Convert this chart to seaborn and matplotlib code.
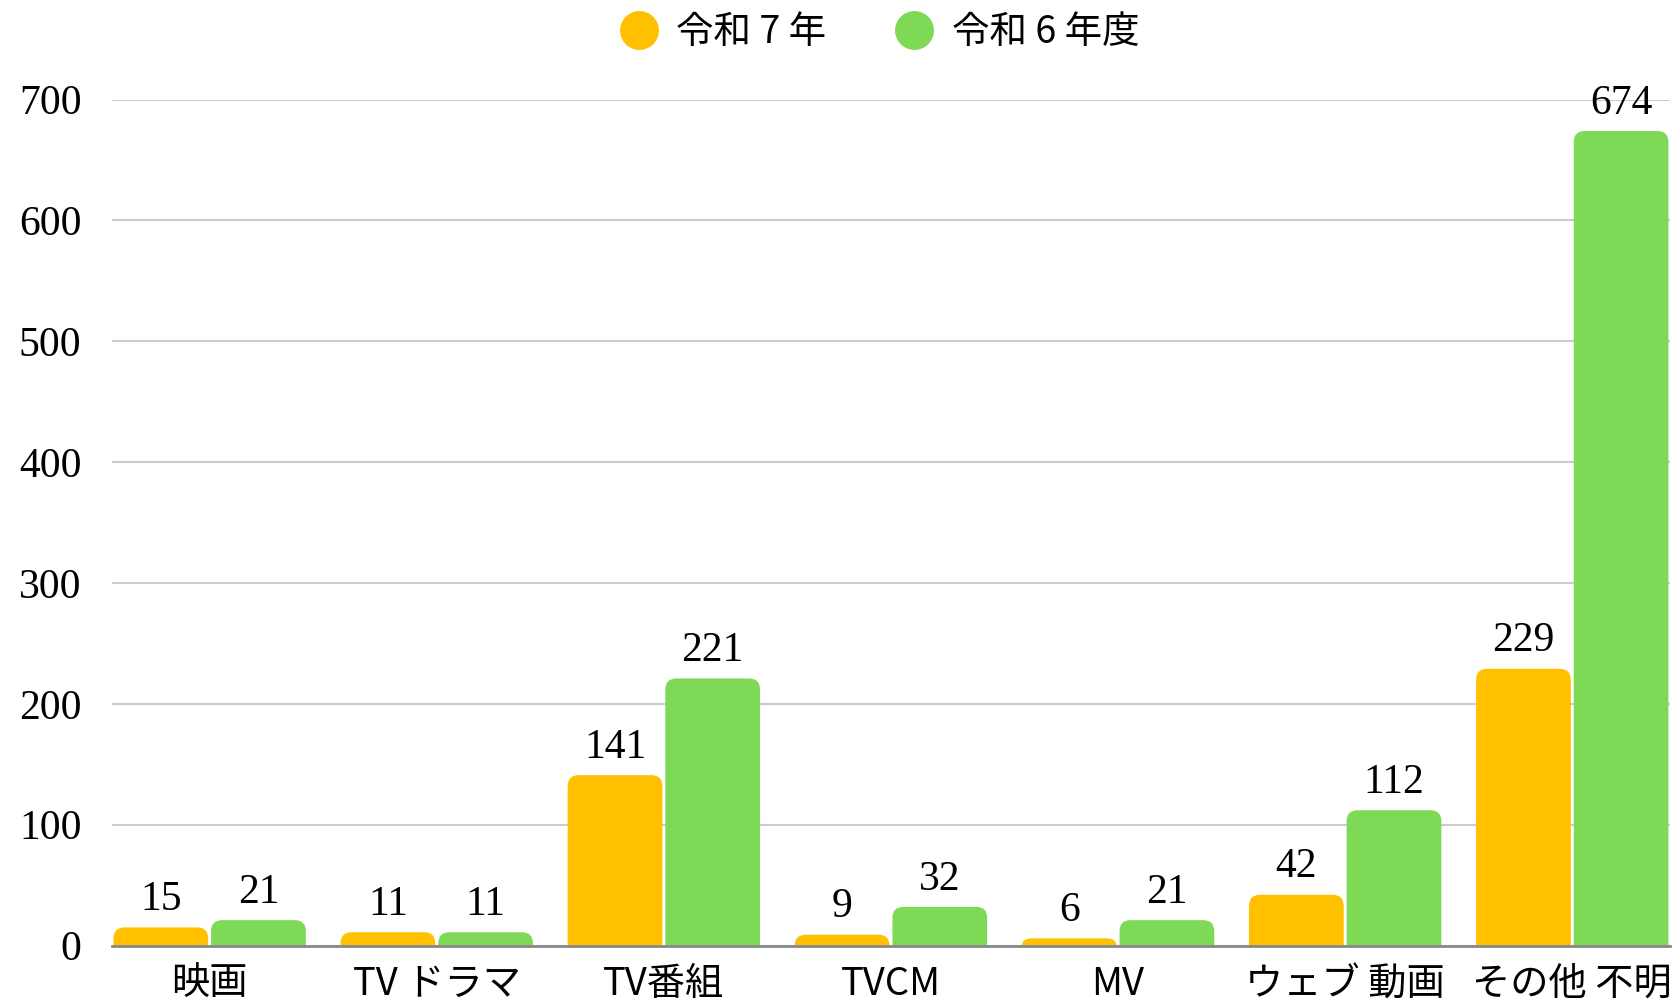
import matplotlib
matplotlib.use("Agg")
import matplotlib.pyplot as plt
import seaborn as sns
import pandas as pd
import numpy as np
from matplotlib.path import Path
from matplotlib.patches import PathPatch
from matplotlib.lines import Line2D

categories = ["映画", "TV ドラマ", "TV番組", "TVCM", "MV", "ウェブ 動画", "その他 不明"]
series_names = ["令和 7 年", "令和 6 年度"]
values_r7 = [15, 11, 141, 9, 6, 42, 229]
values_r6 = [21, 11, 221, 32, 21, 112, 674]
colors = ["#FFC000", "#7ED957"]
yticks = [0, 100, 200, 300, 400, 500, 600, 700]

df = pd.DataFrame({
    "category": categories * 2,
    "series": [series_names[0]] * len(categories) + [series_names[1]] * len(categories),
    "value": values_r7 + values_r6,
})

sns.set_theme(style="white")
plt.rcParams["font.family"] = ["Noto Sans CJK JP", "DejaVu Sans"]
plt.rcParams["text.color"] = "black"
NUMFONT = ["Liberation Serif", "Noto Sans CJK JP"]

fig = plt.figure(figsize=(16.79, 10.06), dpi=100)
ax = fig.add_axes([0.0667, 0.0601, 0.9946 - 0.0667, 0.901 - 0.0601])

sns.barplot(data=df, x="category", y="value", hue="series", order=categories,
            hue_order=series_names, palette=colors, width=0.86, gap=0.03,
            saturation=1, legend=False, ax=ax, zorder=3)

ax.set_xlim(-0.43, len(categories) - 1 + 0.43)
ax.set_ylim(0, 700)
ax.set_yticks(yticks)
ax.set_yticklabels([str(t) for t in yticks], fontfamily=NUMFONT, fontsize=30)
ax.set_xlabel("")
ax.set_ylabel("")
ax.tick_params(axis="y", length=0, pad=22, labelcolor="black")
ax.tick_params(axis="x", length=0, pad=14, labelsize=27.5, labelcolor="black")
for sp in ["left", "right", "top"]:
    ax.spines[sp].set_visible(False)
ax.spines["bottom"].set_color("#888888")
ax.spines["bottom"].set_linewidth(2)
ax.spines["bottom"].set_zorder(4)
ax.yaxis.grid(True, color="#cccccc", linewidth=1.5, zorder=0)
ax.set_axisbelow(True)

for cont in ax.containers:
    ax.bar_label(cont, padding=6, fontsize=30, fontfamily=NUMFONT, color="black", clip_on=False)

# rounded top corners
fig.canvas.draw()
r_px = 11
for p in list(ax.patches):
    x, y, w, h = p.get_x(), p.get_y(), p.get_width(), p.get_height()
    if h <= 0:
        continue
    (x0d, y0d) = ax.transData.transform((0, 0))
    (x1d, y1d) = ax.transData.transform((1, 1))
    rx = r_px / (x1d - x0d)
    ry = min(r_px / (y1d - y0d), h)
    rx = min(rx, w / 2)
    verts = [(x, y), (x + w, y), (x + w, y + h - ry), (x + w, y + h), (x + w - rx, y + h),
             (x + rx, y + h), (x, y + h), (x, y + h - ry), (x, y)]
    codes = [Path.MOVETO, Path.LINETO, Path.LINETO, Path.CURVE3, Path.CURVE3,
             Path.LINETO, Path.CURVE3, Path.CURVE3, Path.CLOSEPOLY]
    pp = PathPatch(Path(verts, codes), facecolor=p.get_facecolor(), edgecolor="none", zorder=3)
    p.set_visible(False)
    ax.add_patch(pp)

handles = [Line2D([0], [0], marker="o", linestyle="none", markersize=27,
                  markerfacecolor=c, markeredgecolor=c) for c in colors]
fig.legend(handles, series_names, loc="center", bbox_to_anchor=(0.524, 0.968), ncol=2,
           frameon=False, fontsize=27, handlelength=1.0, handletextpad=0.5, columnspacing=1.85)

fig.savefig("out.png", dpi=100)
